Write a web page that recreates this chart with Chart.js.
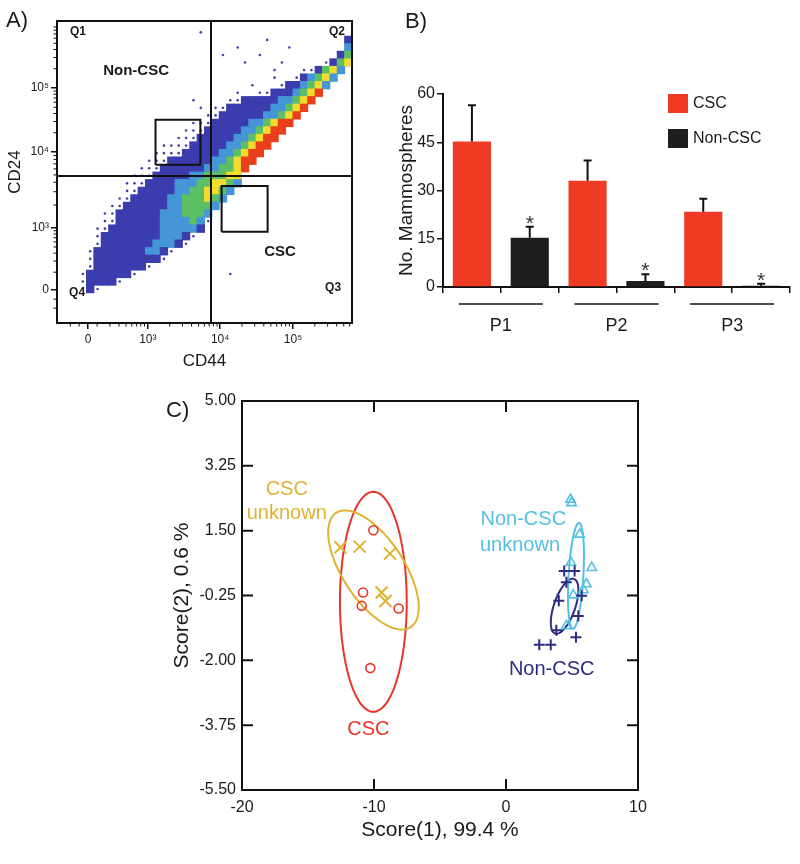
<!DOCTYPE html>
<html>
<head>
<meta charset="utf-8">
<script src="https://cdn.jsdelivr.net/npm/chart.js"></script>
<style>
  html, body { margin: 0; padding: 0; background: #fff; }
  #page { position: relative; width: 800px; height: 864px; background: #fff; overflow: hidden; }
  canvas { position: absolute; }
  #chartA { left: 0; top: 0; }
  #chartB { left: 380px; top: 0; }
  #chartC { left: 150px; top: 380px; }
</style>
</head>
<body>
<div id="page">
  <canvas id="chartA" width="365" height="380"></canvas>
  <canvas id="chartB" width="420" height="345"></canvas>
  <canvas id="chartC" width="510" height="470"></canvas>
</div>
<script>
/* Three-panel figure: A) CD44/CD24 flow plot, B) mammosphere counts, C) score plot */

// ── Panel A data (display units 0–100 on both axes) ─────────────────────
// density level per cell: 40 columns x 40 rows, top row first
// 0 empty, 1 sparse, 2 blue, 3 light blue, 4 green, 5 yellow, 6 red
const densityRows = [
  '0000000000' + '0000000000' + '0000000000' + '0000000000',
  '0000000000' + '0000000001' + '0000000000' + '0000000000',
  '0000000000' + '0000000000' + '0000000010' + '0000000002',
  '0000000000' + '0000000000' + '0000100000' + '0100000003',
  '0000000000' + '0000000000' + '0010000100' + '0000000024',
  '0000000000' + '0000000000' + '0000010000' + '1000001245',
  '0000000000' + '0000000000' + '0000000001' + '0001124530',
  '0000000000' + '0000000000' + '0000000001' + '0012345300',
  '0000000000' + '0000000000' + '0000001000' + '1223453000',
  '0000000000' + '0000000000' + '0000100112' + '2234560000',
  '0000000000' + '0000000010' + '0001122222' + '3345600000',
  '0000000000' + '0000000001' + '0112222223' + '3456000000',
  '0000000000' + '0000000000' + '1122222233' + '4560000000',
  '0000000000' + '0000000011' + '1222223345' + '6600000000',
  '0000000000' + '0000000111' + '2222233456' + '6000000000',
  '0000000000' + '0000001112' + '2222334566' + '0000000000',
  '0000000000' + '0000111122' + '2223345660' + '0000000000',
  '0000000000' + '0001111222' + '2233456600' + '0000000000',
  '0000000000' + '0011122222' + '2334566000' + '0000000000',
  '0000000000' + '0111222222' + '3344560000' + '0000000000',
  '0000000000' + '1112222233' + '4445500000' + '0000000000',
  '0000000001' + '1122223334' + '4554300000' + '0000000000',
  '0000000001' + '1222223344' + '5543000000' + '0000000000',
  '0000000011' + '2222233444' + '5430000000' + '0000000000',
  '0000000112' + '2222233444' + '4300000000' + '0000000000',
  '0000001122' + '2222333444' + '3000000000' + '0000000000',
  '0000001122' + '2222333343' + '1000000000' + '0000000000',
  '0000011222' + '2222333332' + '0000000000' + '0000000000',
  '0000012222' + '2222333210' + '0000000000' + '0000000000',
  '0000012222' + '2223332100' + '0000000000' + '0000000000',
  '0000122222' + '2233210000' + '0000000000' + '0000000000',
  '0000122222' + '2222100000' + '0000000000' + '0000000000',
  '0000122222' + '2210000000' + '0000000000' + '0000000000',
  '0001222222' + '1000000000' + '0001000000' + '0000000000',
  '0001222210' + '0000000000' + '0000000000' + '0000000000',
  '0000210000' + '0000000000' + '0000000000' + '0000000000',
  '0000000000' + '0000000000' + '0000000000' + '0000000000',
  '0000000000' + '0000000000' + '0000000000' + '0000000000',
  '0000000000' + '0000000000' + '0000000000' + '0000000000',
  '0000000000' + '0000000000' + '0000000000' + '0000000000'
];
const aXTickValues = [10.5, 30.8, 55.3, 80.0];
const aXTickLabels = ['0', '10³', '10⁴', '10⁵'];
const aYTickValues = [10.9, 31.5, 56.6, 77.8];
const aYTickLabels = ['0', '10³', '10⁴', '10⁵'];
const quadX = 52.2;
const quadY = 48.7;
const nonCscGate = [33.4, 48.6, 52.4, 67.3];   // xmin, xmax, ymin, ymax
const cscGate = [55.8, 71.4, 30.2, 45.4];
const aRegionLabels = ['Q1', 'Q2', 'Q3', 'Q4', 'Non-CSC', 'CSC'];
const aRegionX = [7.1, 94.9, 93.6, 6.8, 26.8, 75.6];
const aRegionY = [96.4, 96.4, 11.6, 9.9, 83.4, 23.5];

// ── Panel B data ─────────────────────────────────────────────────────────
const passages = ['P1', 'P2', 'P3'];
const barSlots = ['P1 CSC', 'P1 Non-CSC', 'P2 CSC', 'P2 Non-CSC', 'P3 CSC', 'P3 Non-CSC'];
const cscMeans = [45.2, 33.0, 23.4];
const cscErr = [11.3, 6.3, 4.0];
const nonCscMeans = [15.3, 1.9, 0.4];
const nonCscErr = [3.4, 2.1, 0.6];
const nonCscMarks = ['*', '*', '*'];
const bYTicks = [0, 15, 30, 45, 60];

// ── Panel C data ─────────────────────────────────────────────────────────
const cscX = [-10.05, -10.83, -10.93, -8.13, -10.28];
const cscY = [1.51, -0.17, -0.53, -0.60, -2.21];
const cscUnknownX = [-12.54, -11.08, -8.79, -9.42, -9.13];
const cscUnknownY = [1.05, 1.07, 0.88, -0.17, -0.40];
const nonCscX = [4.41, 5.20, 4.57, 4.00, 5.73, 5.48, 3.81, 5.30, 2.52, 3.39];
const nonCscY = [0.41, 0.41, 0.11, -0.39, -0.26, -0.80, -1.19, -1.38, -1.58, -1.58];
const nonCscUnknownX = [4.89, 4.97, 5.58, 6.49, 4.92, 6.09, 5.86, 5.10, 4.58];
const nonCscUnknownY = [2.34, 2.25, 1.40, 0.50, 0.64, 0.06, -0.10, -0.24, -1.07];
// ellipses: centre and two conjugate semi-axes, data units (CSC, CSC unknown, Non-CSC, Non-CSC unknown)
const ellipseCenters = [[-10.05, -0.42], [-10.04, 0.44], [4.44, -0.54], [5.30, 0.28]];
const ellipseAxisU = [[0, 2.97], [3.43, -1.01], [1.045, 0.436], [0.606, 0.537]];
const ellipseAxisV = [[2.53, 0], [0, 1.25], [0, 0.601], [0, 1.325]];
const cXTicks = [-20, -10, 0, 10];
const cYTicks = [-5.5, -3.75, -2, -0.25, 1.5, 3.25, 5];
const cYTickLabels = ['-5.50', '-3.75', '-2.00', '-0.25', '1.50', '3.25', '5.00'];
const cLabelText = ['CSC', 'unknown', 'CSC', 'Non-CSC', 'unknown', 'Non-CSC'];
const cLabelX = [-16.61, -16.61, -10.43, 1.31, 1.06, 3.46];
const cLabelY = [2.62, 1.97, -3.88, 1.81, 1.11, -2.24];

// ── Styles ───────────────────────────────────────────────────────────────
const FONT = "'Liberation Sans', Arial, sans-serif";
const INK = '#1a1a1a';
const densityColors = ['rgba(0,0,0,0)', '#4a3fa6', '#3b3cae', '#4496d6', '#5cbf63', '#f1dc2c', '#e8401c'];
const RED = '#e8352a', GOLD = '#e0b232', NAVY = '#2d2c7f', CYAN = '#55bfe5';
const ellipseColors = [RED, GOLD, NAVY, CYAN];
const cLabelColors = [GOLD, GOLD, RED, CYAN, CYAN, NAVY];

Chart.defaults.font.family = FONT;
Chart.defaults.color = INK;
Chart.defaults.animation = false;
Chart.defaults.events = [];
Chart.defaults.plugins.legend.display = false;
Chart.defaults.plugins.tooltip.enabled = false;

const zip = (xs, ys) => xs.map((x, i) => ({ x, y: ys[i] }));

// ── Panel A ──────────────────────────────────────────────────────────────
const CELL = 100 / 40;

function densityCells(keep) {
    const pts = [];
    densityRows.forEach((row, j) => {
        for (let i = 0; i < row.length; i++) {
            const v = +row[i];
            if (v > 0 && keep(v)) pts.push({ x: (i + 0.5) * CELL, y: 100 - (j + 0.5) * CELL, v });
        }
    });
    return pts;
}

function cellRadius(c) {
    const { x, y } = c.chart.scales;
    const w = Math.abs(x.getPixelForValue(CELL) - x.getPixelForValue(0));
    const h = Math.abs(y.getPixelForValue(CELL) - y.getPixelForValue(0));
    return (Math.max(w, h) / 2 + 0.4) / Math.SQRT1_2;
}

const cellColor = c => densityColors[c.raw ? c.raw.v : 0];
const gatePath = g => [{ x: g[0], y: g[2] }, { x: g[1], y: g[2] }, { x: g[1], y: g[3] }, { x: g[0], y: g[3] }, { x: g[0], y: g[2] }];
const lineSet = data => ({ data, showLine: true, borderColor: '#111', borderWidth: 2, pointRadius: 0, tension: 0, fill: false });

// minor log ticks between the labelled decades
function minorPositions(majors, widths) {
    const starts = [majors[1] - widths[0], majors[1], majors[2], majors[3]];
    const out = [majors[0] - 3, majors[0] - 6];
    starts.forEach((s, k) => {
        for (let m = 2; m <= 9; m++) {
            const v = s + widths[k] * Math.log10(m);
            if (v > majors[0] + 2 && v < 100) out.push(v);
        }
    });
    return out;
}

const flowDecor = {
    id: 'flowDecor',
    afterDraw(chart) {
        const { ctx, chartArea: a, scales: { x, y } } = chart;
        ctx.save();
        ctx.strokeStyle = '#111';
        ctx.lineWidth = 2;
        ctx.strokeRect(a.left, a.top, a.right - a.left, a.bottom - a.top);

        ctx.lineWidth = 1;
        ctx.beginPath();
        minorPositions(aXTickValues, [24.6, 24.6, 24.6, 24.6]).forEach(v => {
            const px = x.getPixelForValue(v);
            ctx.moveTo(px, a.bottom); ctx.lineTo(px, a.bottom + 3.5);
        });
        minorPositions(aYTickValues, [21, 25.1, 21.2, 21.2]).forEach(v => {
            const py = y.getPixelForValue(v);
            ctx.moveTo(a.left, py); ctx.lineTo(a.left - 3.5, py);
        });
        ctx.stroke();

        ctx.fillStyle = INK;
        ctx.textAlign = 'center';
        ctx.textBaseline = 'middle';
        aRegionLabels.forEach((t, i) => {
            ctx.font = (t.charAt(0) === 'Q' ? 'bold 12px ' : 'bold 15px ') + FONT;
            ctx.fillText(t, x.getPixelForValue(aRegionX[i]), y.getPixelForValue(aRegionY[i]));
        });
        ctx.font = '22px ' + FONT;
        ctx.textAlign = 'left';
        ctx.fillText('A)', 6, 21);
        ctx.restore();
    }
};

new Chart(document.getElementById('chartA'), {
    type: 'scatter',
    data: {
        datasets: [
            lineSet([{ x: quadX, y: 0 }, { x: quadX, y: 100 }]),
            lineSet([{ x: 0, y: quadY }, { x: 100, y: quadY }]),
            lineSet(gatePath(nonCscGate)),
            lineSet(gatePath(cscGate)),
            {
                // dense cells: filled squares
                data: densityCells(v => v > 1),
                pointStyle: 'rect',
                pointRadius: cellRadius,
                pointBorderWidth: 0,
                borderWidth: 0,
                backgroundColor: cellColor,
                pointBackgroundColor: cellColor
            },
            {
                // sparse cells: single events
                data: densityCells(v => v === 1),
                pointStyle: 'circle',
                pointRadius: 1.3,
                pointBorderWidth: 0,
                borderWidth: 0,
                backgroundColor: cellColor,
                pointBackgroundColor: cellColor
            }
        ]
    },
    options: {
        responsive: false,
        layout: { padding: { left: 0, top: 21, right: 13, bottom: 0 } },
        scales: {
            x: {
                type: 'linear', min: 0, max: 100,
                afterBuildTicks: s => { s.ticks = aXTickValues.map(v => ({ value: v })); },
                afterFit: s => { s.height = 57; },
                ticks: { callback: (v, i) => aXTickLabels[i], font: { size: 12 }, color: INK, padding: 3, maxRotation: 0, autoSkip: false },
                grid: { drawOnChartArea: false, tickLength: 6, color: '#111', lineWidth: 1.5 },
                border: { display: false },
                title: { display: true, text: 'CD44', font: { size: 17 }, color: INK, padding: { top: 0, bottom: 8 } }
            },
            y: {
                type: 'linear', min: 0, max: 100,
                afterBuildTicks: s => { s.ticks = aYTickValues.map(v => ({ value: v })); },
                afterFit: s => { s.width = 57; },
                ticks: { callback: (v, i) => aYTickLabels[i], font: { size: 12 }, color: INK, padding: 2, autoSkip: false },
                grid: { drawOnChartArea: false, tickLength: 6, color: '#111', lineWidth: 1.5 },
                border: { display: false },
                title: { display: true, text: 'CD24', font: { size: 17 }, color: INK, padding: { top: 5, bottom: 0 } }
            }
        }
    },
    plugins: [flowDecor]
});

// ── Panel B ──────────────────────────────────────────────────────────────
const errorBars = {
    id: 'errorBars',
    afterDatasetsDraw(chart) {
        const { ctx, scales: { y } } = chart;
        const errs = [cscErr, nonCscErr];
        ctx.save();
        ctx.strokeStyle = '#111';
        ctx.lineWidth = 2;
        chart.data.datasets.forEach((ds, di) => {
            chart.getDatasetMeta(di).data.forEach((bar, i) => {
                const top = y.getPixelForValue(ds.data[i] + errs[di][i]);
                ctx.beginPath();
                ctx.moveTo(bar.x, bar.y);
                ctx.lineTo(bar.x, top);
                ctx.moveTo(bar.x - 4, top);
                ctx.lineTo(bar.x + 4, top);
                ctx.stroke();
                if (di === 1 && nonCscMarks[i]) {
                    ctx.fillStyle = '#333';
                    ctx.font = '21px ' + FONT;
                    ctx.textAlign = 'center';
                    ctx.textBaseline = 'alphabetic';
                    ctx.fillText(nonCscMarks[i], bar.x, top + 3);
                }
            });
        });
        ctx.restore();
    }
};

const barDecor = {
    id: 'barDecor',
    afterDraw(chart) {
        const { ctx, scales: { x } } = chart;
        ctx.save();
        ctx.strokeStyle = '#111';
        ctx.fillStyle = INK;
        ctx.lineWidth = 1.5;
        ctx.font = '18px ' + FONT;
        ctx.textAlign = 'center';
        ctx.textBaseline = 'middle';
        passages.forEach((p, i) => {
            const cx = x.getPixelForValue(i);
            ctx.beginPath();
            ctx.moveTo(cx - 42, 304);
            ctx.lineTo(cx + 42, 304);
            ctx.stroke();
            ctx.fillText(p, cx, 326);
        });

        // legend
        ctx.textAlign = 'left';
        ctx.font = '16px ' + FONT;
        chart.data.datasets.forEach((ds, i) => {
            const top = 94 + i * 35;
            ctx.fillStyle = ds.backgroundColor;
            ctx.fillRect(288, top, 20, 19);
            ctx.fillStyle = INK;
            ctx.fillText(ds.label, 313, top + 10);
        });

        ctx.font = '22px ' + FONT;
        ctx.fillText('B)', 25, 22);
        ctx.restore();
    }
};

new Chart(document.getElementById('chartB'), {
    type: 'bar',
    data: {
        labels: passages,
        datasets: [
            { label: 'CSC', data: cscMeans, backgroundColor: '#ef3b24', categoryPercentage: 1, barPercentage: 0.66 },
            { label: 'Non-CSC', data: nonCscMeans, backgroundColor: '#1e1e1e', categoryPercentage: 1, barPercentage: 0.66 }
        ]
    },
    options: {
        responsive: false,
        layout: { padding: { left: 0, top: 94, right: 10, bottom: 0 } },
        scales: {
            x: { display: false },
            xt: {
                type: 'category', labels: barSlots, position: 'bottom', offset: true,
                afterFit: s => { s.height = 58; },
                grid: { offset: true, drawOnChartArea: false, tickLength: 6, color: '#111', lineWidth: 1.5 },
                ticks: { display: false },
                border: { color: '#111', width: 2 }
            },
            y: {
                min: 0, max: 60,
                afterBuildTicks: s => { s.ticks = bYTicks.map(v => ({ value: v })); },
                afterFit: s => { s.width = 63; },
                ticks: { font: { size: 16 }, color: INK, padding: 2 },
                grid: { drawOnChartArea: false, tickLength: 6, color: '#111', lineWidth: 1.5 },
                border: { color: '#111', width: 2 },
                title: { display: true, text: 'No. Mammospheres', font: { size: 19 }, color: INK, padding: { top: 15, bottom: 0 } }
            }
        }
    },
    plugins: [errorBars, barDecor]
});

// ── Panel C ──────────────────────────────────────────────────────────────
const ellipsePlugin = {
    id: 'ellipses',
    beforeDatasetsDraw(chart) {
        const { ctx, scales: { x, y } } = chart;
        ctx.save();
        ctx.lineWidth = 2;
        ellipseCenters.forEach((c, k) => {
            const u = ellipseAxisU[k], v = ellipseAxisV[k];
            ctx.strokeStyle = ellipseColors[k];
            ctx.beginPath();
            for (let s = 0; s <= 120; s++) {
                const t = s / 120 * Math.PI * 2;
                const px = x.getPixelForValue(c[0] + u[0] * Math.cos(t) + v[0] * Math.sin(t));
                const py = y.getPixelForValue(c[1] + u[1] * Math.cos(t) + v[1] * Math.sin(t));
                if (s === 0) ctx.moveTo(px, py); else ctx.lineTo(px, py);
            }
            ctx.closePath();
            ctx.stroke();
        });
        ctx.restore();
    }
};

const scoreDecor = {
    id: 'scoreDecor',
    afterDraw(chart) {
        const { ctx, chartArea: a, scales: { x, y } } = chart;
        ctx.save();
        ctx.strokeStyle = '#111';
        ctx.lineWidth = 2;
        ctx.strokeRect(a.left, a.top, a.right - a.left, a.bottom - a.top);
        ctx.beginPath();
        cYTicks.forEach(v => {
            const py = y.getPixelForValue(v);
            ctx.moveTo(a.left, py); ctx.lineTo(a.left + 11, py);
            ctx.moveTo(a.right, py); ctx.lineTo(a.right - 11, py);
        });
        cXTicks.forEach(v => {
            const px = x.getPixelForValue(v);
            ctx.moveTo(px, a.bottom); ctx.lineTo(px, a.bottom - 11);
            ctx.moveTo(px, a.top); ctx.lineTo(px, a.top + 11);
        });
        ctx.stroke();

        ctx.font = '20px ' + FONT;
        ctx.textAlign = 'center';
        ctx.textBaseline = 'middle';
        cLabelText.forEach((t, i) => {
            ctx.fillStyle = cLabelColors[i];
            ctx.fillText(t, x.getPixelForValue(cLabelX[i]), y.getPixelForValue(cLabelY[i]));
        });

        ctx.fillStyle = INK;
        ctx.font = '22px ' + FONT;
        ctx.textAlign = 'left';
        ctx.fillText('C)', 16, 31);
        ctx.restore();
    }
};

new Chart(document.getElementById('chartC'), {
    type: 'scatter',
    data: {
        datasets: [
            { label: 'CSC', data: zip(cscX, cscY), pointStyle: 'circle', pointRadius: 4.5, borderColor: RED, backgroundColor: 'rgba(0,0,0,0)', borderWidth: 1.6 },
            { label: 'CSC unknown', data: zip(cscUnknownX, cscUnknownY), pointStyle: 'crossRot', pointRadius: 8.5, borderColor: GOLD, backgroundColor: GOLD, borderWidth: 2 },
            { label: 'Non-CSC', data: zip(nonCscX, nonCscY), pointStyle: 'cross', pointRadius: 5.5, borderColor: NAVY, backgroundColor: NAVY, borderWidth: 2 },
            { label: 'Non-CSC unknown', data: zip(nonCscUnknownX, nonCscUnknownY), pointStyle: 'triangle', pointRadius: 5.5, borderColor: CYAN, backgroundColor: 'rgba(0,0,0,0)', borderWidth: 1.6 }
        ]
    },
    options: {
        responsive: false,
        layout: { padding: { left: 0, top: 21, right: 22, bottom: 0 } },
        scales: {
            x: {
                type: 'linear', min: -20, max: 10,
                afterBuildTicks: s => { s.ticks = cXTicks.map(v => ({ value: v })); },
                afterFit: s => { s.height = 60; },
                ticks: { font: { size: 16 }, color: INK, padding: 8, maxRotation: 0, autoSkip: false },
                grid: { drawOnChartArea: false, drawTicks: false },
                border: { display: false },
                title: { display: true, text: 'Score(1), 99.4 %', font: { size: 21 }, color: INK, padding: { top: 0, bottom: 7 } }
            },
            y: {
                type: 'linear', min: -5.5, max: 5,
                afterBuildTicks: s => { s.ticks = cYTicks.map(v => ({ value: v })); },
                afterFit: s => { s.width = 92; },
                ticks: { callback: (v, i) => cYTickLabels[i], font: { size: 16 }, color: INK, padding: 6, autoSkip: false },
                grid: { drawOnChartArea: false, drawTicks: false },
                border: { display: false },
                title: { display: true, text: 'Score(2), 0.6 %', font: { size: 21 }, color: INK, padding: { top: 20, bottom: 0 } }
            }
        }
    },
    plugins: [ellipsePlugin, scoreDecor]
});
</script>
</body>
</html>
